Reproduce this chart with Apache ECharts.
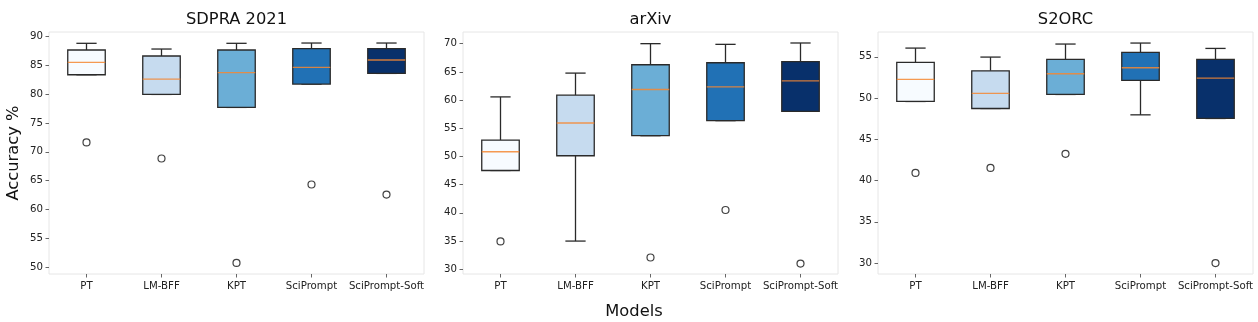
<!DOCTYPE html>
<html>
<head>
<meta charset="utf-8">
<script src="https://cdn.jsdelivr.net/npm/echarts@6/dist/echarts.min.js"></script>
<style>
  html, body { margin: 0; padding: 0; background: #fff; }
  #chart { width: 1258px; height: 322px; }
</style>
</head>
<body>
<div id="chart"></div>
<script>
// Model names along each x axis
const models = ['PT', 'LM-BFF', 'KPT', 'SciPrompt', 'SciPrompt-Soft'];

// Box statistics per dataset, one entry per model: [lower whisker, Q1, median, Q3, upper whisker]
const sdpraStats = [
  [83.35, 83.35, 85.49, 87.63, 88.79],
  [79.94, 79.94, 82.60, 86.59, 87.80],
  [77.69, 77.69, 83.70, 87.63, 88.79],
  [81.73, 81.73, 84.62, 87.86, 88.84],
  [83.58, 83.58, 85.90, 87.86, 88.84]
];
const arxivStats = [
  [47.51, 47.51, 50.83, 52.91, 60.56],
  [34.99, 50.12, 55.93, 60.86, 64.78],
  [53.68, 53.68, 61.87, 66.26, 70.00],
  [56.35, 56.35, 62.34, 66.62, 69.88],
  [58.01, 58.01, 63.41, 66.80, 70.12]
];
const s2orcStats = [
  [49.58, 49.58, 52.25, 54.31, 56.05],
  [48.73, 48.73, 50.55, 53.30, 54.96],
  [50.43, 50.43, 52.94, 54.68, 56.54],
  [47.96, 52.13, 53.67, 55.53, 56.66],
  [47.52, 47.52, 52.41, 54.68, 56.01]
];

// Outlier points: [model index, accuracy]
const sdpraOutliers = [[0, 71.62], [1, 68.84], [2, 50.75], [3, 64.34], [4, 62.60]];
const arxivOutliers = [[0, 34.93], [2, 32.08], [3, 40.50], [4, 31.00]];
const s2orcOutliers = [[0, 40.92], [1, 41.53], [2, 43.23], [4, 30.00]];

// Y tick values per panel
const sdpraTicks = [50, 55, 60, 65, 70, 75, 80, 85, 90];
const arxivTicks = [30, 35, 40, 45, 50, 55, 60, 65, 70];
const s2orcTicks = [30, 35, 40, 45, 50, 55];

// Panel titles and shared axis titles
const panelTitles = ['SDPRA 2021', 'arXiv', 'S2ORC'];
const xTitle = 'Models';
const yTitle = 'Accuracy %';

// Sequential blue fill, one per model
const boxColors = ['#f7fbff', '#c6dbef', '#6baed6', '#2171b5', '#08306b'];

const FONT = '"DejaVu Sans", sans-serif';
const EDGE = '#2a2a2a';
const MEDIAN = 'rgba(245,135,50,0.85)';
const TICK_FONT = 10.2;

const panels = [
  { stats: sdpraStats, outliers: sdpraOutliers, ticks: sdpraTicks, min: 48.84, max: 90.75, left: 49 },
  { stats: arxivStats, outliers: arxivOutliers, ticks: arxivTicks, min: 29.15, max: 72.07, left: 463 },
  { stats: s2orcStats, outliers: s2orcOutliers, ticks: s2orcTicks, min: 28.67, max: 58.0, left: 878 }
];
const GRID_W = 375, GRID_TOP = 32, GRID_H = 242;

function renderBox(params, api) {
  const idx = api.value(0);
  const lo = api.coord([idx, api.value(1)]);
  const q1 = api.coord([idx, api.value(2)]);
  const md = api.coord([idx, api.value(3)]);
  const q3 = api.coord([idx, api.value(4)]);
  const hi = api.coord([idx, api.value(5)]);
  const band = api.size([1, 0])[0];
  const bw = band * 0.5;
  const cw = band * 0.27;
  const cx = q1[0];
  const line = (x1, y1, x2, y2, stroke, w) => ({
    type: 'line',
    shape: { x1, y1, x2, y2 },
    style: { stroke, lineWidth: w }
  });
  return {
    type: 'group',
    children: [
      line(cx, hi[1], cx, q3[1], EDGE, 1.3),
      line(cx, q1[1], cx, lo[1], EDGE, 1.3),
      line(cx - cw / 2, hi[1], cx + cw / 2, hi[1], EDGE, 1.3),
      line(cx - cw / 2, lo[1], cx + cw / 2, lo[1], EDGE, 1.3),
      {
        type: 'rect',
        shape: { x: cx - bw / 2, y: q3[1], width: bw, height: q1[1] - q3[1] },
        style: { fill: boxColors[idx], stroke: EDGE, lineWidth: 1.3 }
      },
      line(cx - bw / 2, md[1], cx + bw / 2, md[1], MEDIAN, 1.3)
    ]
  };
}

const grid = [], xAxis = [], yAxis = [], series = [], graphic = [];

panels.forEach((p, i) => {
  grid.push({
    left: p.left, top: GRID_TOP, width: GRID_W, height: GRID_H,
    show: true, borderColor: '#e6e6e6', borderWidth: 1, backgroundColor: 'transparent'
  });
  xAxis.push({
    type: 'category', gridIndex: i, data: models, boundaryGap: true,
    axisLine: { show: false },
    axisTick: { show: true, alignWithLabel: true, length: 3.5, lineStyle: { color: '#666' } },
    axisLabel: { color: '#222', fontFamily: FONT, fontSize: TICK_FONT, margin: 7, interval: 0 },
    splitLine: { show: false }
  });
  yAxis.push({
    type: 'value', gridIndex: i, min: p.min, max: p.max,
    axisLine: { show: false },
    axisTick: { show: true, length: 3.5, lineStyle: { color: '#666' }, customValues: p.ticks },
    axisLabel: { color: '#222', fontFamily: FONT, fontSize: TICK_FONT, margin: 6, customValues: p.ticks },
    splitLine: { show: false }
  });
  series.push({
    type: 'custom', xAxisIndex: i, yAxisIndex: i,
    renderItem: renderBox,
    encode: { x: 0, y: [1, 2, 3, 4, 5] },
    data: p.stats.map((s, k) => [k].concat(s)),
    silent: true, z: 2
  });
  series.push({
    type: 'scatter', xAxisIndex: i, yAxisIndex: i,
    data: p.outliers,
    symbol: 'circle', symbolSize: 7,
    itemStyle: { color: '#fff', borderColor: '#111', borderWidth: 1.2 },
    silent: true, z: 3
  });
  graphic.push({
    type: 'text', x: p.left + GRID_W / 2, y: 20,
    style: { text: panelTitles[i], font: '16.3px ' + FONT, fill: '#111', align: 'center', verticalAlign: 'middle' }
  });
});

graphic.push({
  type: 'text', x: 634, y: 312,
  style: { text: xTitle, font: '16.3px ' + FONT, fill: '#111', align: 'center', verticalAlign: 'middle' }
});
graphic.push({
  type: 'text', x: 14, y: 153, rotation: Math.PI / 2,
  style: { text: yTitle, font: '16.3px ' + FONT, fill: '#111', align: 'center', verticalAlign: 'middle' }
});

const chart = echarts.init(document.getElementById('chart'), null, { renderer: 'canvas' });
chart.setOption({
  backgroundColor: '#fff',
  animation: false,
  grid, xAxis, yAxis, series, graphic
});
</script>
</body>
</html>
